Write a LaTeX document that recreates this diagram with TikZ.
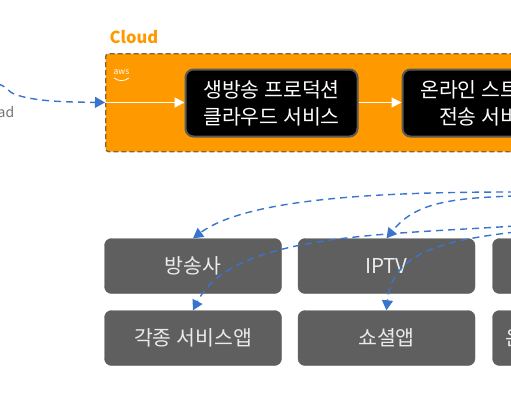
\documentclass[tikz,border=0pt]{standalone}
\usepackage{fontspec}
\setmainfont{Noto Sans CJK KR}
\usetikzlibrary{arrows.meta,
                positioning
                }
\definecolor{cloudorange}{HTML}{FF9900}
\definecolor{cloudedge}{HTML}{7A6540}
\definecolor{appgray}{HTML}{5F5F5F}
\definecolor{flowblue}{HTML}{3A75CC}
\tikzset{
    servicebox/.style={draw=black!65, line width=2pt, fill=black, rounded corners=8pt, minimum width=172pt, minimum height=67pt, align=center, text=white, font=\fontsize{20.5}{27}\selectfont, inner sep=0pt},
    appbox/.style={draw=appgray, fill=appgray, rounded corners=7pt, minimum width=177pt, minimum height=55pt, text=white!92!black, font=\fontsize{20.5}{24}\selectfont, inner sep=0pt},
    whiteflow/.style={draw=white, line width=1.3pt, -{Triangle[length=10pt, width=10pt]}},
    blueflow/.style={draw=flowblue, line width=1.4pt, dash pattern=on 7pt off 5pt, -{Triangle[length=10pt, width=11pt, fill=flowblue]}}
}

\begin{document}
\begin{tikzpicture}[x=1pt, y=-1pt]
            \useasboundingbox (0,0) rectangle (511,400);
            \clip (0,0) rectangle (511,400);

            %cloud area
            \node[anchor=west, text=cloudorange, font=\fontsize{16.5}{18}\selectfont\bfseries] (cloudlabel) at (106,37) {Cloud};
            \node[anchor=north west, draw=cloudedge, dash pattern=on 5pt off 3pt, line width=1.3pt, fill=cloudorange, rounded corners=3pt, minimum width=460pt, minimum height=98pt, inner sep=0pt] (cloudarea) at (105,53) {};

            %aws mark
            \node[text=white, font=\fontsize{8.5}{8}\selectfont, inner sep=0pt] (awslogo) at (121.5,72) {aws};
            \draw[white, line width=.8pt] (114,78) .. controls (119,81.5) and (124,81.5) .. (129,78);

            %services
            \node[servicebox] (production) at (271.5,103) {생방송 프로덕션\\클라우드 서비스};
            \node[servicebox] (streaming) at (488.5,103) {온라인 스트리밍\\전송 서비스};
            \coordinate (cloudin) at (105,102.5);
            \draw[whiteflow] (cloudin) -- (production.west |- cloudin);
            \draw[whiteflow] (production.east |- cloudin) -- (streaming.west |- cloudin);

            %apps
            \node[appbox] (broadcaster) at (193,266) {방송사};
            \node[appbox] (iptv) at (386.5,266) {IPTV};
            \node[appbox] (thirdtop) at (581,266) {};
            \node[appbox] (serviceapp) at (193,338) {각종 서비스앱};
            \node[appbox] (socialapp) at (386.5,338) {쇼셜앱};
            \node[appbox] (thirdbottom) at (581,338) {};
            \node[anchor=west, text=white!92!black, font=\fontsize{20.5}{24}\selectfont, inner sep=0pt] (thirdlabel) at (505.5,338) {온};

            %upload
            \node[anchor=east, text=black!55, font=\fontsize{14}{16}\selectfont, inner sep=0pt] (upload) at (14.5,112) {ad};
            \coordinate (uploadstart) at (-2,84);
            \draw[blueflow] (uploadstart) .. controls (8,87) and (6,90) .. (14,94) .. controls (35,102) and (70,102) .. (cloudin);

            %distribution
            \coordinate (outa) at (515,192);
            \coordinate (outb) at (515,196);
            \coordinate (outc) at (515,226);
            \coordinate (outd) at (515,232);
            \draw[blueflow] (outa) .. controls (400,192) and (250,196) .. (broadcaster.north);
            \draw[blueflow] (outb) .. controls (450,198) and (415,203) .. (iptv.north);
            \draw[blueflow] (outc) .. controls (380,235) and (232,234) .. (serviceapp.north);
            \draw[blueflow] (outd) .. controls (450,240) and (392,250) .. (socialapp.north);
\end{tikzpicture}
\end{document}
